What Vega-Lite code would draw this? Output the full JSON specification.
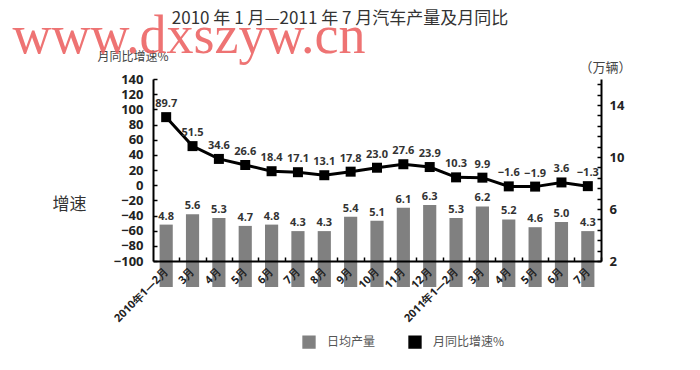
{
  "$schema": "https://vega.github.io/schema/vega-lite/v6.json",
  "width": 448,
  "height": 182,
  "autosize": "none",
  "padding": {"left": 153, "top": 79, "right": 99, "bottom": 109},
  "background": "white",
  "title": {
    "text": "2010 年 1 月—2011 年 7 月汽车产量及月同比",
    "font": "Noto Sans CJK SC",
    "fontSize": 17,
    "fontWeight": "normal",
    "color": "#333333",
    "anchor": "middle",
    "frame": "group",
    "dx": -37,
    "offset": -19
  },
  "data": {
    "values": [
      {"i": 1, "m": "2010年1—2月", "prod": 4.8, "yoy": 89.7},
      {"i": 2, "m": "2010年3月", "prod": 5.6, "yoy": 51.5},
      {"i": 3, "m": "2010年4月", "prod": 5.3, "yoy": 34.6},
      {"i": 4, "m": "2010年5月", "prod": 4.7, "yoy": 26.6},
      {"i": 5, "m": "2010年6月", "prod": 4.8, "yoy": 18.4},
      {"i": 6, "m": "2010年7月", "prod": 4.3, "yoy": 17.1},
      {"i": 7, "m": "2010年8月", "prod": 4.3, "yoy": 13.1},
      {"i": 8, "m": "2010年9月", "prod": 5.4, "yoy": 17.8},
      {"i": 9, "m": "2010年10月", "prod": 5.1, "yoy": 23.0},
      {"i": 10, "m": "2010年11月", "prod": 6.1, "yoy": 27.6},
      {"i": 11, "m": "2010年12月", "prod": 6.3, "yoy": 23.9},
      {"i": 12, "m": "2011年1—2月", "prod": 5.3, "yoy": 10.3},
      {"i": 13, "m": "2011年3月", "prod": 6.2, "yoy": 9.9},
      {"i": 14, "m": "2011年4月", "prod": 5.2, "yoy": -1.6},
      {"i": 15, "m": "2011年5月", "prod": 4.6, "yoy": -1.9},
      {"i": 16, "m": "2011年6月", "prod": 5.0, "yoy": 3.6},
      {"i": 17, "m": "2011年7月", "prod": 4.3, "yoy": -1.3}
    ]
  },
  "encoding": {
    "x": {
      "field": "m",
      "type": "nominal",
      "sort": null,
      "scale": {"paddingInner": 0.5, "paddingOuter": 0.25},
      "axis": {
        "orient": "bottom",
        "zindex": 1,
        "labelAngle": -45,
        "labelAlign": "right",
        "labelBaseline": "middle",
        "labelFontSize": 11,
        "labelPadding": 13,
        "labelExpr": "length(datum.value) > 8 ? datum.value : substring(datum.value, 5)",
        "tickOffset": 13,
        "labelOffset": -13,
        "tickSize": -4,
        "title": "www.dxszyw.cn",
        "titleFont": "Liberation Serif",
        "titleFontSize": 54,
        "titleFontWeight": "normal",
        "titleColor": "#ec6464",
        "titleOpacity": 0.9,
        "titleAlign": "left",
        "titleBaseline": "alphabetic",
        "titleAngle": 0,
        "titleX": -141,
        "titleY": -209
      }
    }
  },
  "layer": [
    {
      "mark": {"type": "bar"},
      "encoding": {
        "y": {
          "field": "prod",
          "type": "quantitative",
          "scale": {"domain": [2, 16], "nice": false, "zero": false},
          "axis": {
            "orient": "right",
            "values": [2, 2.8, 3.6, 4.4, 5.2, 6, 6.8, 7.6, 8.4, 9.2, 10, 10.8, 11.6, 12.4, 13.2, 14, 14.8, 15.6],
            "labelExpr": "datum.value == 2 || datum.value == 6 || datum.value == 10 || datum.value == 14 ? datum.label : ''",
            "labelFontSize": 13,
            "labelPadding": 12,
            "tickSize": -4,
            "title": "（万辆）",
            "titleFont": "Noto Sans CJK SC",
            "titleFontSize": 13,
            "titleFontWeight": "normal",
            "titleColor": "#444444",
            "titleAngle": 0,
            "titleAlign": "center",
            "titleBaseline": "middle",
            "titleX": 4,
            "titleY": -12
          }
        },
        "color": {
          "datum": "日均产量",
          "type": "nominal",
          "scale": {"domain": ["日均产量", "月同比增速%"], "range": ["#808080", "#000000"]},
          "legend": {
            "orient": "none",
            "direction": "horizontal",
            "legendX": 149,
            "legendY": 256,
            "title": null,
            "symbolSize": 140,
            "columnPadding": 30,
            "labelFont": "Noto Sans CJK SC",
            "labelFontSize": 12,
            "labelColor": "#555555",
            "labelOffset": 11
          }
        }
      }
    },
    {
      "layer": [
        {
          "mark": {"type": "line", "strokeWidth": 3, "point": {"shape": "square", "size": 100, "filled": true, "color": "#000000"}},
          "encoding": {
            "color": {"datum": "月同比增速%", "type": "nominal"},
            "order": {"field": "i", "type": "quantitative"}
          }
        },
        {
          "mark": {"type": "text", "baseline": "bottom", "dy": -8, "font": "Open Sans", "fontSize": 11, "fontWeight": "bold", "color": "#333333"},
          "encoding": {"text": {"field": "yoy", "type": "quantitative", "format": ".1f"}}
        }
      ],
      "encoding": {
        "y": {
          "field": "yoy",
          "type": "quantitative",
          "scale": {"domain": [-100, 140], "nice": false, "zero": false},
          "axis": {
            "orient": "left",
            "values": [-100, -80, -60, -40, -20, 0, 20, 40, 60, 80, 100, 120, 140],
            "labelFontSize": 13,
            "labelPadding": 14,
            "tickSize": -4,
            "title": "月同比增速%",
            "titleFont": "Noto Sans CJK SC",
            "titleFontSize": 12,
            "titleFontWeight": "normal",
            "titleColor": "#444444",
            "titleAngle": 0,
            "titleAlign": "left",
            "titleBaseline": "middle",
            "titleX": -56,
            "titleY": -23
          }
        }
      }
    },
    {
      "mark": {"type": "text", "baseline": "bottom", "dy": -3, "font": "Open Sans", "fontSize": 11, "fontWeight": "bold", "color": "#333333"},
      "encoding": {
        "y": {
          "field": "prod",
          "type": "quantitative",
          "scale": {"domain": [2, 16], "nice": false, "zero": false},
          "axis": {
            "orient": "left",
            "labels": false,
            "ticks": false,
            "domain": false,
            "title": "增速",
            "titleFont": "Noto Sans CJK SC",
            "titleFontSize": 17,
            "titleFontWeight": "normal",
            "titleColor": "#333333",
            "titleAngle": 0,
            "titleAlign": "right",
            "titleBaseline": "middle",
            "titleX": -67,
            "titleY": 125
          }
        },
        "text": {"field": "prod", "type": "quantitative", "format": ".1f"}
      }
    }
  ],
  "resolve": {"scale": {"y": "independent"}},
  "config": {
    "view": {"stroke": null},
    "axis": {
      "grid": false,
      "domainColor": "#000000",
      "domainWidth": 2,
      "tickColor": "#000000",
      "tickWidth": 1.5,
      "labelFont": "Open Sans",
      "labelFontWeight": "bold",
      "labelColor": "#222222"
    }
  }
}
